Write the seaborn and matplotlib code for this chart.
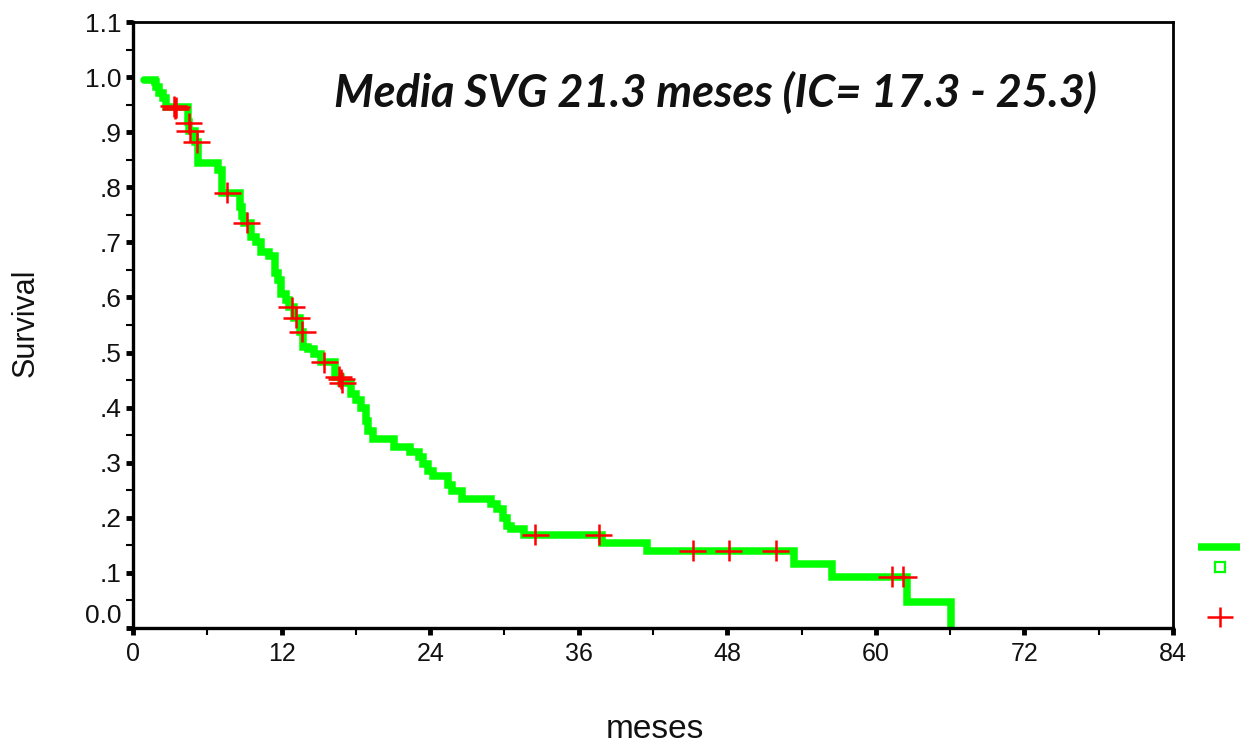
import matplotlib
matplotlib.use("Agg")
import matplotlib.pyplot as plt
from matplotlib.path import Path
from matplotlib.lines import Line2D
from matplotlib.ticker import FixedLocator, FixedFormatter, MultipleLocator
import seaborn as sns
import pandas as pd

# Kaplan-Meier step function: time (months) at which survival changes, and new survival
step_time = [0.85, 1.75, 1.85, 2.1, 2.4, 2.65, 4.4, 4.55, 5.0, 5.25, 6.85, 7.2,
             8.6, 8.8, 9.0, 9.5, 9.9, 10.3, 11.0, 11.45, 11.7, 11.95, 12.35, 12.6,
             13.0, 13.5, 13.7, 14.1, 14.65, 15.2, 16.3, 16.8, 17.6, 18.0, 18.4,
             18.8, 19.0, 19.35, 21.1, 22.4, 23.1, 23.4, 23.8, 24.2, 25.4, 25.8,
             26.6, 28.9, 29.4, 29.85, 30.2, 30.5, 31.6, 37.9, 41.5, 53.4, 56.45,
             62.5, 66.1]
step_surv = [0.995, 0.991, 0.982, 0.971, 0.962, 0.945, 0.918, 0.902, 0.882, 0.845,
             0.831, 0.790, 0.765, 0.748, 0.736, 0.709, 0.700, 0.682, 0.676, 0.644,
             0.631, 0.607, 0.595, 0.582, 0.563, 0.538, 0.510, 0.507, 0.498, 0.482,
             0.456, 0.445, 0.425, 0.413, 0.400, 0.376, 0.358, 0.344, 0.328, 0.319,
             0.310, 0.298, 0.285, 0.276, 0.260, 0.249, 0.235, 0.225, 0.216, 0.200,
             0.185, 0.180, 0.169, 0.155, 0.140, 0.116, 0.093, 0.047, 0.000]

# Censored observations
cens_time = [3.3, 3.4, 3.5, 4.5, 4.6, 5.15, 7.6, 9.2, 12.8, 13.2, 13.65, 15.45,
             16.6, 16.8, 16.9, 32.5, 37.6, 45.2, 48.1, 51.9, 61.3, 62.2]
cens_surv = [0.947, 0.942, 0.945, 0.916, 0.902, 0.882, 0.790, 0.736, 0.582, 0.563,
             0.538, 0.482, 0.456, 0.452, 0.445, 0.169, 0.169, 0.140, 0.140, 0.140,
             0.093, 0.093]

x_ticks = [0, 12, 24, 36, 48, 60, 72, 84]
y_ticks = [0.0, 0.1, 0.2, 0.3, 0.4, 0.5, 0.6, 0.7, 0.8, 0.9, 1.0, 1.1]
y_labels = ["0.0", ".1", ".2", ".3", ".4", ".5", ".6", ".7", ".8", ".9", "1.0", "1.1"]

title_text = "Media SVG 21.3 meses (IC= 17.3 - 25.3)"
x_title = "meses"
y_title = "Survival"

GREEN = "#00FF00"
RED = "#FF0000"

sns.set_theme(style="white")
plt.rcParams["font.family"] = ["Liberation Sans", "DejaVu Sans"]

fig = plt.figure(figsize=(12.4, 7.44), dpi=100)
ax = fig.add_axes([0.1073, 0.1559, 0.9460 - 0.1073, 0.9704 - 0.1559])

curve = pd.DataFrame({"t": step_time, "s": step_surv})
sns.lineplot(data=curve, x="t", y="s", ax=ax, color=GREEN, linewidth=5.4,
             drawstyle="steps-post", estimator=None, sort=False,
             solid_joinstyle="miter", zorder=2)

# wide plus sign used for censor marks
cross = Path([(-1.3, 0), (1.3, 0), (0, -1.0), (0, 1.0)],
             [Path.MOVETO, Path.LINETO, Path.MOVETO, Path.LINETO])
cens = pd.DataFrame({"t": cens_time, "s": cens_surv})
sns.scatterplot(data=cens, x="t", y="s", ax=ax, marker=cross, s=380,
                facecolor="none", edgecolor=RED, linewidth=1.8, zorder=3)

ax.set_xlim(0, 84)
ax.set_ylim(0, 1.1)
ax.xaxis.set_major_locator(FixedLocator(x_ticks))
ax.xaxis.set_minor_locator(MultipleLocator(6))
ax.yaxis.set_major_locator(FixedLocator(y_ticks))
ax.yaxis.set_major_formatter(FixedFormatter(y_labels))
ax.yaxis.set_minor_locator(MultipleLocator(0.05))

for sp in ax.spines.values():
    sp.set_visible(True)
    sp.set_color("black")
    sp.set_linewidth(2.0)
ax.spines["left"].set_linewidth(2.4)
ax.spines["bottom"].set_linewidth(2.4)

ax.tick_params(which="major", direction="out", length=5, width=3.5, color="black",
               labelcolor="#111111", left=True, bottom=True)
ax.tick_params(which="minor", direction="out", length=5, width=1.5, color="black",
               left=True, bottom=True)
ax.tick_params(axis="y", pad=3, labelsize=19)
ax.tick_params(axis="x", pad=5, labelsize=18)

# the 0.0 label sits just above the baseline
for lab in ax.get_yticklabels():
    if lab.get_text() == "0.0":
        lab.set_verticalalignment("bottom")

ax.set_xlabel("")
ax.set_ylabel("")
fig.text(0.528, 1 - 730 / 744, x_title, ha="center", va="center", fontsize=24,
         color="#111111")
fig.text(0.021, 1 - 323 / 744, y_title, ha="center", va="center", rotation=90,
         fontsize=22, color="#111111")

fig.text(0.5766, 1 - 93 / 744, title_text, ha="center", va="center",
         fontsize=32.5, fontweight="bold", fontstyle="italic", color="#111111",
         family=["Lato", "DejaVu Sans"])

# legend keys at the right margin
fig.add_artist(Line2D([1198 / 1240, 1.0], [1 - 547 / 744] * 2, transform=fig.transFigure,
                      color=GREEN, linewidth=5.4, solid_capstyle="butt"))
fig.add_artist(Line2D([1220 / 1240], [1 - 567 / 744], transform=fig.transFigure,
                      marker="s", markersize=7, markerfacecolor="none",
                      markeredgecolor=GREEN, markeredgewidth=1.6, linestyle="none"))
fig.add_artist(Line2D([1220 / 1240], [1 - 617 / 744], transform=fig.transFigure,
                      marker=cross, markersize=19, markerfacecolor="none",
                      markeredgecolor=RED, markeredgewidth=1.8, linestyle="none"))

fig.savefig("out.png", dpi=100, facecolor="white")
